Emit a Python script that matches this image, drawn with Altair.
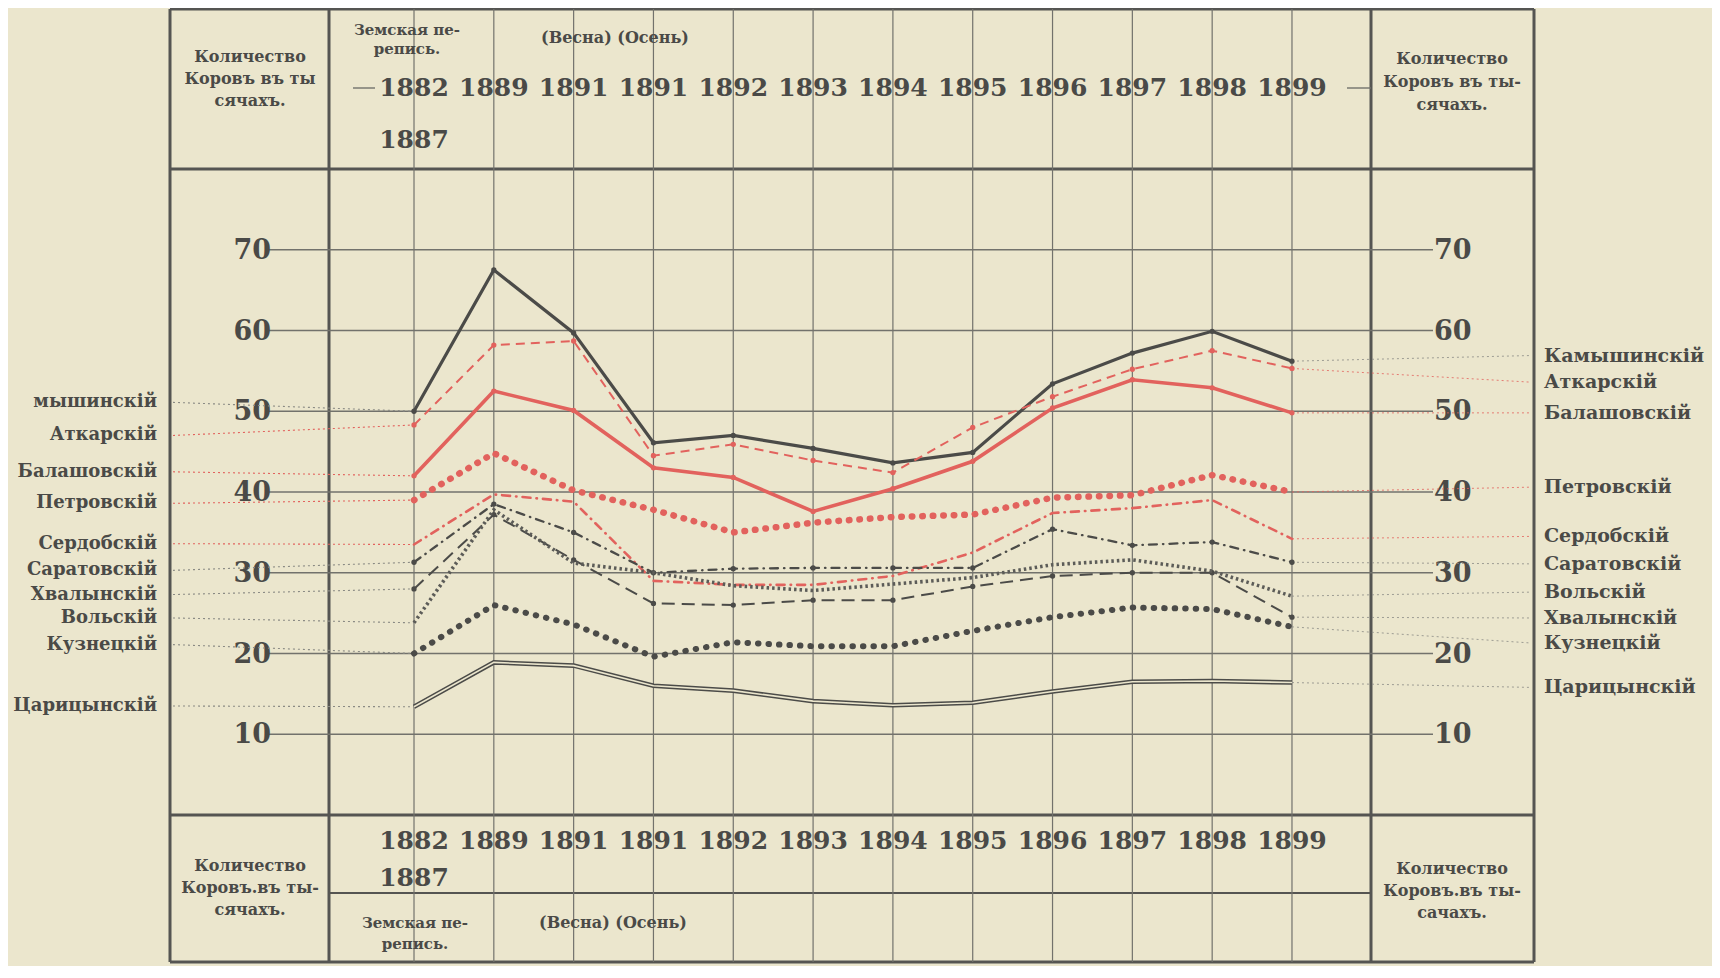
import altair as alt
import pandas as pd

# ---------------- data ----------------
years = ["1882", "1889", "1891", "1891", "1892", "1893", "1894",
         "1895", "1896", "1897", "1898", "1899"]
census_end_year = "1887"
y_ticks = [10, 20, 30, 40, 50, 60, 70]

districts = ["Камышинскій", "Аткарскій", "Балашовскій", "Петровскій",
             "Сердобскій", "Саратовскій", "Хвалынскій", "Вольскій",
             "Кузнецкій", "Царицынскій"]

kamyshin = [50.0, 67.5, 59.7, 46.1, 47.0, 45.4, 43.6, 44.9, 53.4, 57.2, 59.9, 56.2]
atkarsk = [48.3, 58.2, 58.7, 44.5, 45.9, 43.9, 42.4, 48.0, 51.8, 55.2, 57.5, 55.3]
balashov = [42.0, 52.5, 50.1, 43.0, 41.8, 37.6, 40.4, 43.8, 50.4, 53.9, 52.9, 49.8]
petrovsk = [39.0, 44.8, 40.2, 37.8, 35.0, 36.2, 36.9, 37.2, 39.3, 39.6, 42.1, 40.0]
serdobsk = [33.5, 39.7, 38.8, 29.0, 28.5, 28.5, 29.6, 32.5, 37.4, 38.0, 39.0, 34.2]
saratov = [31.3, 38.5, 35.0, 30.0, 30.5, 30.6, 30.6, 30.6, 35.4, 33.4, 33.8, 31.3]
khvalynsk = [28.0, 37.2, 31.6, 26.2, 26.0, 26.6, 26.6, 28.3, 29.6, 30.0, 30.0, 24.5]
volsk = [23.8, 37.8, 31.2, 30.0, 28.4, 27.8, 28.6, 29.4, 31.0, 31.6, 30.2, 27.1]
kuznetsk = [20.0, 26.0, 23.6, 19.6, 21.4, 20.9, 20.9, 22.8, 24.5, 25.7, 25.5, 23.3]
tsaritsyn = [13.4, 18.9, 18.5, 16.0, 15.4, 14.1, 13.6, 13.9, 15.3, 16.5, 16.6, 16.4]

series_values = [kamyshin, atkarsk, balashov, petrovsk, serdobsk,
                 saratov, khvalynsk, volsk, kuznetsk, tsaritsyn]

left_names = ["мышинскій", "Аткарскій", "Балашовскій", "Петровскій",
              "Сердобскій", "Саратовскій", "Хвалынскій", "Вольскій",
              "Кузнецкій", "Царицынскій"]
right_names = ["Камышинскій", "Аткарскій", "Балашовскій", "Петровскій",
               "Сердобскій", "Саратовскій", "Вольскій", "Хвалынскій",
               "Кузнецкій", "Царицынскій"]

head_cell = ["Количество", "Коровъ въ ты", "сячахъ."]
head_cell_r = ["Количество", "Коровъ въ ты-", "сячахъ."]
foot_cell = ["Количество", "Коровъ.въ ты-", "сячахъ."]
foot_cell_r = ["Количество", "Коровъ.въ ты-", "сачахъ."]
census_text = ["Земская пе-", "репись."]
season_text = "(Весна) (Осень)"

# ---------------- layout / style ----------------
BG = "#ebe6cd"
INK = "#4b4b48"
TXT = "#4a4a47"
RED = "#e2625d"
GRID = "#72726c"
FRAME = "#555552"
FONT = "DejaVu Serif"

W, H = 1042, 646
XMIN, XMAX = -1.065, 11.99
xs = alt.Scale(domain=[XMIN, XMAX], nice=False, zero=False)
ys = alt.Scale(domain=[0, 80], nice=False, zero=False)

OUT_L, OUT_R, TOP, BOT, FOOT_IN = -159, 1205, -160, 793, 724

def xpx(px):
    return XMIN + px / W * (XMAX - XMIN)

one = alt.Data(values=[{"k": 1}])

def rule(x1, x2, y1, y2, color=FRAME, width=3.0):
    return alt.Chart(one).mark_rule(color=color, strokeWidth=width).encode(
        x=alt.value(x1), x2=alt.value(x2), y=alt.value(y1), y2=alt.value(y2))

def label(t, x, y, size, align="center"):
    return alt.Chart(one).mark_text(
        text=t, font=FONT, fontSize=size, fontWeight="bold", color=TXT,
        align=align, baseline="middle").encode(x=alt.value(x), y=alt.value(y))

layers = []

# frame
layers += [
    rule(OUT_L, OUT_L, TOP, BOT), rule(OUT_R, OUT_R, TOP, BOT),
    rule(0, 0, TOP, BOT), rule(W, W, TOP, BOT),
    rule(OUT_L, OUT_R, TOP, TOP), rule(OUT_L, OUT_R, BOT, BOT),
    rule(OUT_L, OUT_R, 0, 0), rule(OUT_L, OUT_R, H, H),
    rule(0, W, FOOT_IN, FOOT_IN, width=2.2),
]

# vertical column lines
col_df = pd.DataFrame({"idx": list(range(len(years))), "year": years})
layers.append(alt.Chart(col_df).mark_rule(color=GRID, strokeWidth=1.2).encode(
    x=alt.X("idx:Q", scale=xs, axis=None), y=alt.value(TOP), y2=alt.value(BOT)))

# horizontal grid + ticks
tick_df = pd.DataFrame({"t": y_ticks})
layers.append(alt.Chart(tick_df).mark_rule(color=GRID, strokeWidth=1.4).encode(
    y=alt.Y("t:Q", scale=ys, axis=None), x=alt.value(-61), x2=alt.value(W + 62)))
layers.append(alt.Chart(tick_df).mark_text(
    font=FONT, fontSize=27, fontWeight="bold", color=TXT, align="right",
    baseline="middle", dy=1).encode(
    y=alt.Y("t:Q", scale=ys, axis=None), x=alt.value(-58), text="t:Q"))
layers.append(alt.Chart(tick_df).mark_text(
    font=FONT, fontSize=27, fontWeight="bold", color=TXT, align="left",
    baseline="middle", dy=1).encode(
    y=alt.Y("t:Q", scale=ys, axis=None), x=alt.value(W + 63), text="t:Q"))

# header / footer year rows
for yy in (-81, 672):
    layers.append(alt.Chart(col_df).mark_text(
        font=FONT, fontSize=25, fontWeight="bold", color=TXT, align="center",
        baseline="middle").encode(
        x=alt.X("idx:Q", scale=xs, axis=None), y=alt.value(yy), text="year:N"))
sub_df = pd.DataFrame({"idx": [0], "year": [census_end_year]})
for yy in (-29, 709):
    layers.append(alt.Chart(sub_df).mark_text(
        font=FONT, fontSize=25, fontWeight="bold", color=TXT, align="center",
        baseline="middle").encode(
        x=alt.X("idx:Q", scale=xs, axis=None), y=alt.value(yy), text="year:N"))
layers += [rule(24, 46, -81, -81, color=GRID, width=1.4),
           rule(1018, 1042, -81, -81, color=GRID, width=1.4)]

# cell texts
for i, t in enumerate(head_cell):
    layers.append(label(t, -79, -112 + 22 * i, 16))
for i, t in enumerate(head_cell_r):
    layers.append(label(t, 1123, -110 + 23 * i, 16))
for i, t in enumerate(foot_cell):
    layers.append(label(t, -79, 697 + 22 * i, 16))
for i, t in enumerate(foot_cell_r):
    layers.append(label(t, 1123, 700 + 22 * i, 16))
for i, t in enumerate(census_text):
    layers.append(label(t, 78, -139 + 19 * i, 15))
    layers.append(label(t, 86, 754 + 21 * i, 15))
layers.append(label(season_text, 286, -131, 16))
layers.append(label(season_text, 284, 754, 16))

# series styles
styles = {
    "Камышинскій": dict(color=INK, strokeWidth=3.2),
    "Аткарскій": dict(color=RED, strokeWidth=2.0, strokeDash=[9, 6]),
    "Балашовскій": dict(color=RED, strokeWidth=3.6),
    "Петровскій": dict(color=RED, strokeWidth=6.5, strokeDash=[0.5, 10], strokeCap="round"),
    "Сердобскій": dict(color=RED, strokeWidth=2.6, strokeDash=[8, 6, 0.5, 6], strokeCap="round"),
    "Саратовскій": dict(color=INK, strokeWidth=2.3, strokeDash=[8, 6, 0.5, 6], strokeCap="round"),
    "Хвалынскій": dict(color=INK, strokeWidth=2.0, strokeDash=[13, 7]),
    "Вольскій": dict(color="#5c5c58", strokeWidth=3.6, strokeDash=[2.5, 3]),
    "Кузнецкій": dict(color=INK, strokeWidth=6.0, strokeDash=[0.5, 10], strokeCap="round"),
}
is_red = {"Аткарскій", "Балашовскій", "Петровскій", "Сердобскій"}

left_pos = [51.1, 47.0, 42.5, 38.6, 33.6, 30.3, 27.3, 24.4, 21.1, 13.5]
right_pos = {"Камышинскій": 56.9, "Аткарскій": 53.6, "Балашовскій": 49.8,
             "Петровскій": 40.6, "Сердобскій": 34.5, "Саратовскій": 31.1,
             "Вольскій": 27.6, "Хвалынскій": 24.4, "Кузнецкій": 21.3,
             "Царицынскій": 15.8}

# leader lines
for name, vals, lp in zip(districts, series_values, left_pos):
    col = RED if name in is_red else "#8a8a84"
    ldf = pd.DataFrame({"x": [xpx(OUT_L + 3), 0], "v": [lp, vals[0]]})
    layers.append(alt.Chart(ldf).mark_line(color=col, strokeWidth=1.1, strokeDash=[2, 3]).encode(
        x=alt.X("x:Q", scale=xs, axis=None), y=alt.Y("v:Q", scale=ys, axis=None)))
    rdf = pd.DataFrame({"x": [len(years) - 1, xpx(OUT_R - 3)], "v": [vals[-1], right_pos[name]]})
    layers.append(alt.Chart(rdf).mark_line(color=col, strokeWidth=1.0, strokeDash=[2, 3], opacity=0.8).encode(
        x=alt.X("x:Q", scale=xs, axis=None), y=alt.Y("v:Q", scale=ys, axis=None)))

# series lines
for name, vals in zip(districts, series_values):
    sdf = pd.DataFrame({"idx": list(range(len(years))), "v": vals})
    enc = dict(x=alt.X("idx:Q", scale=xs, axis=None), y=alt.Y("v:Q", scale=ys, axis=None))
    if name == "Царицынскій":
        layers.append(alt.Chart(sdf).mark_line(color=INK, strokeWidth=4.6).encode(**enc))
        layers.append(alt.Chart(sdf).mark_line(color=BG, strokeWidth=1.6).encode(**enc))
        continue
    layers.append(alt.Chart(sdf).mark_line(**styles[name]).encode(**enc))
    if name in ("Камышинскій", "Балашовскій", "Аткарскій", "Саратовскій", "Хвалынскій"):
        layers.append(alt.Chart(sdf).mark_point(
            filled=True, size=28, opacity=1, color=styles[name]["color"]).encode(**enc))

# district labels
ldf = pd.DataFrame({"name": left_names, "p": left_pos})
layers.append(alt.Chart(ldf).mark_text(
    font=FONT, fontSize=18, fontWeight="bold", color=TXT, align="right",
    baseline="middle").encode(
    x=alt.value(-172), y=alt.Y("p:Q", scale=ys, axis=None), text="name:N"))
rdf = pd.DataFrame({"name": right_names, "p": [right_pos[n] for n in right_names]})
layers.append(alt.Chart(rdf).mark_text(
    font=FONT, fontSize=19, fontWeight="bold", color=TXT, align="left",
    baseline="middle").encode(
    x=alt.value(1215), y=alt.Y("p:Q", scale=ys, axis=None), text="name:N"))

chart = alt.layer(*layers).properties(
    width=W, height=H,
    padding={"left": 321, "top": 161, "right": 341, "bottom": 151},
    autosize=alt.AutoSizeParams(type="none"),
    background=BG,
).configure_view(stroke=None)

chart.save("out.html", embed_options={"renderer": "svg", "actions": False})
